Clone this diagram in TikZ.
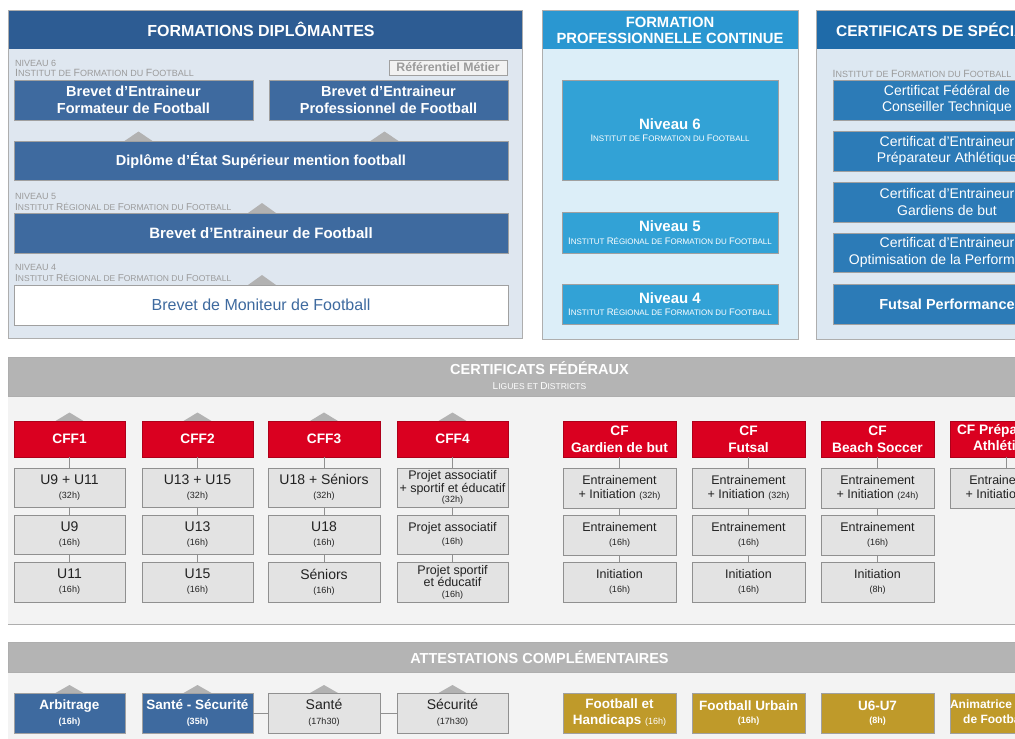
\documentclass[tikz,border=0pt]{standalone}
\usepackage{fontspec}
\setmainfont{Liberation Sans}
\definecolor{headL}{HTML}{2D5C93}
\definecolor{boxL}{HTML}{3E6A9F}
\definecolor{bodyL}{HTML}{DFE7F0}
\definecolor{headM}{HTML}{2A97D1}
\definecolor{bodyM}{HTML}{DCEEF8}
\definecolor{boxM}{HTML}{32A2D6}
\definecolor{headR}{HTML}{1F6BA9}
\definecolor{bodyR}{HTML}{DDE8F2}
\definecolor{boxR}{HTML}{2C7BB7}
\definecolor{grayH}{HTML}{B4B4B4}
\definecolor{grayB}{HTML}{F3F3F3}
\definecolor{redC}{HTML}{DA0020}
\definecolor{subF}{HTML}{E3E3E3}
\definecolor{edgeC}{HTML}{A0A0A0}
\definecolor{goldC}{HTML}{BF9A2A}
\definecolor{triC}{HTML}{B2B2B2}
\definecolor{lblC}{HTML}{9B9B9B}
\definecolor{txtC}{HTML}{222222}
\definecolor{refF}{HTML}{F2F2F2}
\newcommand\Fs[2]{{\fontsize{#1}{#1}\selectfont #2}}
\newcommand\IFF[2]{\Fs{#1}{I}\Fs{#2}{NSTITUT DE }\Fs{#1}{F}\Fs{#2}{ORMATION DU }\Fs{#1}{F}\Fs{#2}{OOTBALL}}
\newcommand\IRFF[2]{\Fs{#1}{I}\Fs{#2}{NSTITUT }\Fs{#1}{R}\Fs{#2}{ÉGIONAL DE }\Fs{#1}{F}\Fs{#2}{ORMATION DU }\Fs{#1}{F}\Fs{#2}{OOTBALL}}
\newcommand\Hr[1]{\Fs{9pt}{#1}}
\newcommand\tri[3]{\fill[triC] ({#1-14},#2) -- (#1,{#2-#3}) -- ({#1+14},#2) -- cycle;}
\tikzset{
  pbox/.style={inner sep=0pt, outer sep=0pt, align=center, anchor=north west, line width=0.7pt, draw=edgeC},
  blueL/.style={pbox, fill=boxL, text=white, font=\bfseries\fontsize{14.5}{17}\selectfont},
  nivM/.style={pbox, fill=boxM, text=white, font=\bfseries\fontsize{15}{12.7}\selectfont},
  certR/.style={pbox, fill=boxR, text=white, font=\fontsize{14}{16.5}\selectfont},
  redbox/.style={pbox, fill=redC, draw=redC!80!black, text=white, font=\bfseries\fontsize{13.7}{16.6}\selectfont},
  subbox/.style={pbox, fill=subF, draw=edgeC!90!black, text=txtC, font=\fontsize{14}{14}\selectfont},
  subsm/.style={subbox, font=\fontsize{12.5}{13.5}\selectfont},
  blueA/.style={pbox, fill=boxL, text=white, font=\bfseries\fontsize{13.5}{15}\selectfont},
  grayA/.style={subbox, font=\fontsize{14}{15}\selectfont},
  goldA/.style={pbox, fill=goldC, text=white, font=\bfseries\fontsize{13.5}{16.5}\selectfont},
  lbl/.style={anchor=base west, inner sep=0pt, text=lblC, font=\fontsize{9}{9}\selectfont},
  ttl/.style={anchor=base, inner sep=0pt, text=white, font=\bfseries\fontsize{16}{16}\selectfont},
  conn/.style={draw=edgeC!90!black, line width=0.7pt},
  panel/.style={draw=edgeC!85!white, line width=0.9pt}
}
\begin{document}
\begin{tikzpicture}[x=1pt,y=-1pt]
\useasboundingbox (0,0) rectangle (1015,739);
\clip (0,0) rectangle (1015,739);
\fill[white] (0,0) rectangle (1015,739);

% ---------- panel 1: formations diplomantes
\fill[bodyL] (8,10) rectangle (522,338);
\fill[headL] (8,10) rectangle (522,49);
\draw[panel] (8,10) rectangle (522,338);
\node[ttl] (tL) at (261,36) {FORMATIONS DIPLÔMANTES};
\node[lbl] (n6) at (15,66.5) {NIVEAU 6};
\node[lbl] (i6) at (15,76.6) {\IFF{10.5pt}{9pt}};
\node[pbox, fill=refF, text=lblC, font=\bfseries\fontsize{12.3}{12}\selectfont, minimum width=118pt, minimum height=15pt] (ref) at (389,60) {Référentiel Métier};
\node[blueL, minimum width=239pt, minimum height=40pt] (beff) at (14,80) {Brevet d’Entraineur\\Formateur de Football};
\node[blueL, minimum width=239pt, minimum height=40pt] (bepf) at (269,80) {Brevet d’Entraineur\\Professionnel de Football};
\tri{138.5}{141}{9.5}
\tri{384.5}{141}{9.5}
\node[blueL, minimum width=494pt, minimum height=39pt] (des) at (14,141) {Diplôme d’État Supérieur mention football};
\node[lbl] (n5) at (15,199.4) {NIVEAU 5};
\node[lbl] (i5) at (15,210) {\IRFF{10pt}{8.5pt}};
\tri{262}{213}{10}
\node[blueL, font=\bfseries\fontsize{15}{17}\selectfont, minimum width=494pt, minimum height=40pt] (bef) at (14,213) {Brevet d’Entraineur de Football};
\node[lbl] (n4) at (15,270.8) {NIVEAU 4};
\node[lbl] (i4) at (15,281.7) {\IRFF{10pt}{8.5pt}};
\tri{262}{285}{10}
\node[pbox, fill=white, text=boxL, font=\fontsize{16}{17}\selectfont, minimum width=494pt, minimum height=40pt] (bmf) at (14,285) {Brevet de Moniteur de Football};

% ---------- panel 2: formation professionnelle continue
\fill[bodyM] (542,10) rectangle (798,339);
\fill[headM] (542,10) rectangle (798,49);
\draw[panel] (542,10) rectangle (798,339);
\node[ttl, font=\bfseries\fontsize{14.8}{16.7}\selectfont, align=center, anchor=center] (tM) at (670,30.5) {FORMATION\\PROFESSIONNELLE CONTINUE};
\node[nivM, minimum width=216pt, minimum height=100pt] (nv6) at (562,80) {Niveau 6\\{\mdseries\IFF{9.5pt}{8pt}}};
\node[nivM, minimum width=216pt, minimum height=41pt] (nv5) at (562,212) {Niveau 5\\{\mdseries\IRFF{9.5pt}{8pt}}};
\node[nivM, minimum width=216pt, minimum height=40pt] (nv4) at (562,284) {Niveau 4\\{\mdseries\IRFF{9.5pt}{8pt}}};

% ---------- panel 3: certificats de specialite
\fill[bodyR] (816,10) rectangle (1078,339);
\fill[headR] (816,10) rectangle (1078,49);
\draw[panel] (816,10) rectangle (1078,339);
\node[ttl, font=\bfseries\fontsize{15.5}{16}\selectfont, anchor=base west] (tR) at (836,36) {CERTIFICATS DE SPÉCIALITÉ};
\node[lbl] (iR) at (832.5,77.3) {\IFF{10.5pt}{9pt}};
\node[certR, minimum width=228pt, minimum height=40pt] (c1) at (833,80) {Certificat Fédéral de\\Conseiller Technique};
\node[certR, minimum width=228pt, minimum height=40pt] (c2) at (833,131) {Certificat d’Entraineur\\Préparateur Athlétique};
\node[certR, minimum width=228pt, minimum height=40pt] (c3) at (833,182) {Certificat d’Entraineur\\Gardiens de but};
\node[certR, minimum width=228pt, minimum height=39pt] (c4) at (833,233) {Certificat d’Entraineur\\Optimisation de la Performance};
\node[certR, font=\bfseries\fontsize{14.5}{16}\selectfont, minimum width=228pt, minimum height=40pt] (c5) at (833,284) {Futsal Performance};

% ---------- section: certificats federaux
\fill[grayB] (8,396) rectangle (1020,624);
\fill[grayH] (8,357) rectangle (1020,396);
\draw[panel] (8,357) rectangle (1020,396);
\draw[panel] (8,624) -- (1020,624);
\node[ttl, font=\bfseries\fontsize{14.5}{15}\selectfont] (tF) at (539.5,374) {CERTIFICATS FÉDÉRAUX};
\node[ttl, font=\mdseries\fontsize{9}{9}\selectfont] (tF2) at (539.5,389) {\Fs{10pt}{L}\Fs{8.5pt}{IGUES ET }\Fs{10pt}{D}\Fs{8.5pt}{ISTRICTS}};

\foreach \cx in {69.5,197.5,324,452.5} {\tri{\cx}{421}{8.5}}
\node[redbox, minimum width=111pt, minimum height=36pt] (cff1) at (14,421) {CFF1};
\node[redbox, minimum width=111pt, minimum height=36pt] (cff2) at (142,421) {CFF2};
\node[redbox, minimum width=112pt, minimum height=36pt] (cff3) at (268,421) {CFF3};
\node[redbox, minimum width=111pt, minimum height=36pt] (cff4) at (397,421) {CFF4};

\node[subbox, minimum width=111pt, minimum height=39pt] (a1) at (14,468) {U9 + U11\\\Hr{(32h)}};
\node[subbox, minimum width=111pt, minimum height=39pt] (a2) at (14,515) {U9\\\Hr{(16h)}};
\node[subbox, minimum width=111pt, minimum height=40pt] (a3) at (14,562) {U11\\\Hr{(16h)}};
\node[subbox, minimum width=111pt, minimum height=39pt] (b1) at (142,468) {U13 + U15\\\Hr{(32h)}};
\node[subbox, minimum width=111pt, minimum height=39pt] (b2) at (142,515) {U13\\\Hr{(16h)}};
\node[subbox, minimum width=111pt, minimum height=40pt] (b3) at (142,562) {U15\\\Hr{(16h)}};
\node[subbox, minimum width=112pt, minimum height=39pt] (d1) at (268,468) {U18 + Séniors\\\Hr{(32h)}};
\node[subbox, minimum width=112pt, minimum height=39pt] (d2) at (268,515) {U18\\\Hr{(16h)}};
\node[subbox, minimum width=112pt, minimum height=40pt] (d3) at (268,562) {Séniors\\\Hr{(16h)}};
\node[subsm, font=\fontsize{12.5}{12.5}\selectfont, minimum width=111pt, minimum height=39pt] (e1) at (397,468) {Projet associatif\\+ sportif et éducatif\\[-2.5pt]\Hr{(32h)}};
\node[subsm, minimum width=111pt, minimum height=39pt] (e2) at (397,515) {Projet associatif\\\Hr{(16h)}};
\node[subsm, font=\fontsize{12.5}{12.5}\selectfont, minimum width=111pt, minimum height=40pt] (e3) at (397,562) {Projet sportif\\et éducatif\\[-2pt]\Hr{(16h)}};

\node[redbox, minimum width=113pt, minimum height=36pt] (g0) at (563,421) {CF\\Gardien de but};
\node[redbox, minimum width=113pt, minimum height=36pt] (f0) at (692,421) {CF\\Futsal};
\node[redbox, minimum width=113pt, minimum height=36pt] (s0) at (821,421) {CF\\Beach Soccer};
\node[redbox, minimum width=113pt, minimum height=36pt] (p0) at (950,421) {CF Préparateur\\Athlétique};

\node[subsm, minimum width=113pt, minimum height=40pt] (g1) at (563,468) {Entrainement\\+ Initiation \Hr{(32h)}};
\node[subsm, minimum width=113pt, minimum height=40pt] (g2) at (563,515) {Entrainement\\\Hr{(16h)}};
\node[subsm, minimum width=113pt, minimum height=40pt] (g3) at (563,562) {Initiation\\\Hr{(16h)}};
\node[subsm, minimum width=113pt, minimum height=40pt] (f1) at (692,468) {Entrainement\\+ Initiation \Hr{(32h)}};
\node[subsm, minimum width=113pt, minimum height=40pt] (f2) at (692,515) {Entrainement\\\Hr{(16h)}};
\node[subsm, minimum width=113pt, minimum height=40pt] (f3) at (692,562) {Initiation\\\Hr{(16h)}};
\node[subsm, minimum width=113pt, minimum height=40pt] (s1) at (821,468) {Entrainement\\+ Initiation \Hr{(24h)}};
\node[subsm, minimum width=113pt, minimum height=40pt] (s2) at (821,515) {Entrainement\\\Hr{(16h)}};
\node[subsm, minimum width=113pt, minimum height=40pt] (s3) at (821,562) {Initiation\\\Hr{(8h)}};
\node[subsm, minimum width=113pt, minimum height=40pt] (p1) at (950,468) {Entrainement\\+ Initiation \Hr{(32h)}};

\foreach \u/\v in {cff1/a1,a1/a2,a2/a3,cff2/b1,b1/b2,b2/b3,cff3/d1,d1/d2,d2/d3,cff4/e1,e1/e2,e2/e3,g0/g1,g1/g2,g2/g3,f0/f1,f1/f2,f2/f3,s0/s1,s1/s2,s2/s3,p0/p1}
  {\draw[conn] (\u) -- (\v);}

% ---------- section: attestations complementaires
\fill[grayB] (8,672) rectangle (1020,745);
\fill[grayH] (8,642) rectangle (1020,672);
\draw[panel] (8,642) rectangle (1020,672);
\node[ttl, font=\bfseries\fontsize{14.5}{15}\selectfont] (tA) at (539.5,663.3) {ATTESTATIONS COMPLÉMENTAIRES};
\foreach \cx in {69.5,197.5,324,452.5} {\tri{\cx}{693}{8}}
\node[blueA, minimum width=111pt, minimum height=40pt] (arb) at (14,693) {Arbitrage\\\Hr{(16h)}};
\node[blueA, minimum width=111pt, minimum height=40pt] (ss) at (142,693) {Santé - Sécurité\\\Hr{(35h)}};
\node[grayA, minimum width=112pt, minimum height=40pt] (sante) at (268,693) {Santé\\\Hr{(17h30)}};
\node[grayA, minimum width=111pt, minimum height=40pt] (secu) at (397,693) {Sécurité\\\Hr{(17h30)}};
\draw[conn] (ss) -- (sante);
\draw[conn] (sante) -- (secu);
\node[goldA, minimum width=113pt, minimum height=40pt] (fh) at (563,693) {Football et\\Handicaps {\mdseries\Hr{(16h)}}};
\node[goldA, font=\bfseries\fontsize{13.5}{13}\selectfont, minimum width=113pt, minimum height=40pt] (fu) at (692,693) {Football Urbain\\\Hr{(16h)}};
\node[goldA, font=\bfseries\fontsize{13.5}{13}\selectfont, minimum width=113pt, minimum height=40pt] (u67) at (821,693) {U6-U7\\\Hr{(8h)}};
\node[goldA, font=\bfseries\fontsize{12}{15}\selectfont, minimum width=113pt, minimum height=40pt] (anim) at (950,693) {Animatrice Fédérale\\de Football {\mdseries\Hr{(16h)}}};
\end{tikzpicture}
\end{document}
